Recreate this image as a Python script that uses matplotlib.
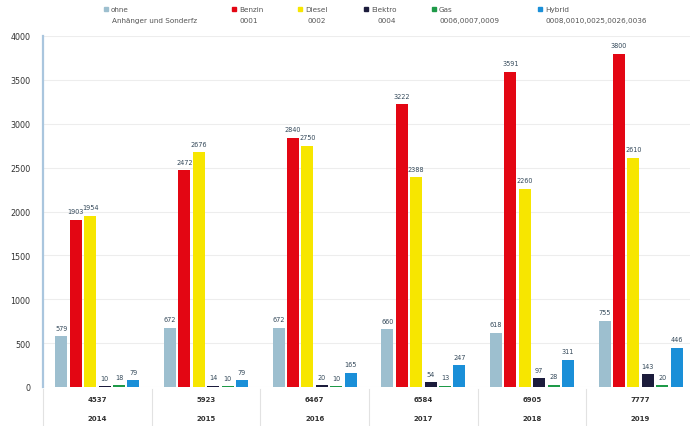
import numpy as np
import matplotlib.pyplot as plt
from matplotlib.lines import Line2D
from matplotlib.transforms import blended_transform_factory

# Neuzulassungen nach Kraftstoffart
years = ["2014", "2015", "2016", "2017", "2018", "2019"]
totals = ["4537", "5923", "6467", "6584", "6905", "7777"]

names = ["ohne", "Benzin", "Diesel", "Elektro", "Gas", "Hybrid"]
codes = ["Anhänger und Sonderfz", "0001", "0002", "0004",
         "0006,0007,0009", "0008,0010,0025,0026,0036"]
colors = ["#9dbfcf", "#e30613", "#f7e600", "#1c1c3c", "#1e9a48", "#1a8fd8"]

ohne = [579, 672, 672, 660, 618, 755]
benzin = [1903, 2472, 2840, 3222, 3591, 3800]
diesel = [1954, 2676, 2750, 2388, 2260, 2610]
elektro = [10, 14, 20, 54, 97, 143]
gas = [18, 10, 10, 13, 28, 20]
hybrid = [79, 79, 165, 247, 311, 446]
series = [ohne, benzin, diesel, elektro, gas, hybrid]

W, H = 690, 427
fig = plt.figure(figsize=(W / 100, H / 100), dpi=100)
ax = fig.add_axes([43 / W, 39 / H, 652 / W, 351 / H])

x = np.arange(len(years))
step = 0.1325
width = 0.11
for i, (vals, col) in enumerate(zip(series, colors)):
    pos = x + (i - 2.5) * step
    ax.bar(pos, vals, width=width, color=col, zorder=3)
    for px, v in zip(pos, vals):
        ax.annotate(str(v), (px, v), xytext=(0, 4), textcoords="offset points",
                    ha="center", va="bottom", fontsize=4.7, color="#34495a")

ax.set_xlim(-0.5, 5.5)
ax.set_ylim(0, 4000)
ax.set_yticks(np.arange(0, 4001, 500))
ax.yaxis.grid(True, color="#ededed", lw=0.8, zorder=0)
ax.set_xticks([])
ax.tick_params(axis="y", length=0, labelsize=5.8, labelcolor="#333333", pad=9)
for s in ["top", "right", "bottom"]:
    ax.spines[s].set_visible(False)
ax.spines["left"].set_color("#aac6de")
ax.spines["left"].set_linewidth(1.6)

# Tabelle unter der Achse: Summe und Jahr
tr = blended_transform_factory(ax.transData, fig.transFigure)
for i in range(len(years)):
    ax.text(i, 1 - 400 / H, totals[i], transform=tr, ha="center", va="center",
            fontsize=5, color="#333333", fontweight="bold")
    ax.text(i, 1 - 419 / H, years[i], transform=tr, ha="center", va="center",
            fontsize=5, color="#333333", fontweight="bold")
for b in np.arange(-0.5, 5.5, 1):
    ax.plot([b, b], [0, 1 - 390 / H], transform=tr, color="#e2e2e2",
            lw=0.8, clip_on=False)

# Legende oben
mark_x = [106, 234, 300, 366, 434, 540]
code_x = [112, 240, 307, 378, 440, 546]
for mx, cx, name, code, col in zip(mark_x, code_x, names, codes, colors):
    fig.add_artist(Line2D([mx / W], [1 - 10 / H], marker="s", markersize=3,
                          color=col, transform=fig.transFigure))
    fig.text((mx + 5) / W, 1 - 10 / H, name, fontsize=5.2, color="#555555",
             va="center")
    fig.text(cx / W, 1 - 21 / H, code, fontsize=5.2, color="#555555",
             va="center")

fig.savefig("out.png", dpi=100)
